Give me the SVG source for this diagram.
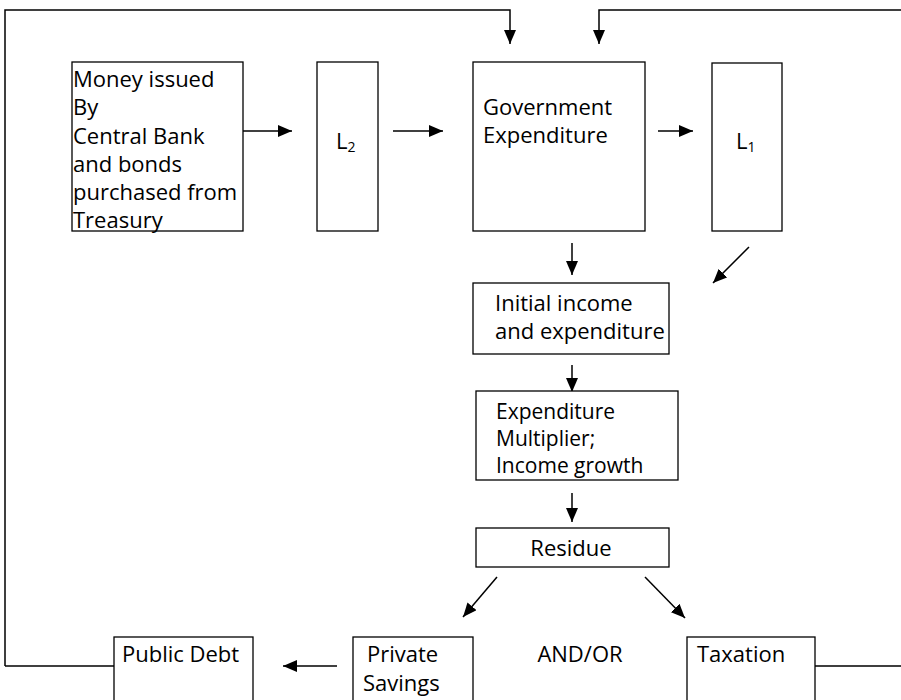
<svg xmlns="http://www.w3.org/2000/svg" width="901" height="700" viewBox="0 0 901 700">
<defs>
<marker id="ah" viewBox="0 0 14 12" refX="14" refY="6" markerWidth="14" markerHeight="12" markerUnits="userSpaceOnUse" orient="auto">
<path d="M0,0 L14,6 L0,12 Z" fill="#000"/>
</marker>
<style>
.box{fill:#fff;stroke:#000;stroke-width:1.3}
.t{font-family:"Open Sans","Liberation Sans",sans-serif;font-size:22px;fill:#000}
.s{font-size:21px}
.c{fill:none;stroke:#000;stroke-width:1.5}
.a{fill:none;stroke:#000;stroke-width:1.5;marker-end:url(#ah)}
</style>
</defs>
<rect width="901" height="700" fill="#fff"/>
<g id="connectors">
<path class="a" d="M5,666 L5,10 L510,10 L510,44"/>
<path class="c" d="M5,666 L114,666"/>
<path class="a" d="M815,666 L905,666 L905,10 L599,10 L599,44"/>
<path class="a" d="M243,131 L292,131"/>
<path class="a" d="M393,131 L443,131"/>
<path class="a" d="M658,131 L693,131"/>
<path class="a" d="M572,243 L572,275"/>
<path class="a" d="M749,247 L713,283"/>
<path class="a" d="M572,365 L572,392"/>
<path class="a" d="M572,493 L572,522"/>
<path class="a" d="M497,577 L463,617"/>
<path class="a" d="M645,577 L685,618"/>
<path class="a" d="M337,666 L283,666"/>
</g>
<g id="money">
<rect class="box" x="72" y="62" width="171" height="169"/>
<text class="t" x="73" y="87">Money issued</text>
<text class="t" x="73" y="115">By</text>
<text class="t" x="73" y="143.5">Central Bank</text>
<text class="t" x="73" y="172">and bonds</text>
<text class="t" x="73" y="200">purchased from</text>
<text class="t" x="73" y="228">Treasury</text>
</g>
<g id="L2">
<rect class="box" x="317" y="62" width="61" height="169"/>
<text class="t" x="336" y="149" font-size="20">L<tspan font-size="14" dy="3">2</tspan></text>
</g>
<g id="gov">
<rect class="box" x="473" y="62" width="172" height="169"/>
<text class="t" x="483" y="115">Government</text>
<text class="t" x="483" y="143">Expenditure</text>
</g>
<g id="L1">
<rect class="box" x="712" y="63" width="70" height="168"/>
<text class="t" x="736" y="149" font-size="20">L<tspan font-size="14" dy="3">1</tspan></text>
</g>
<g id="initial">
<rect class="box" x="473" y="283" width="196" height="71"/>
<text class="t" x="495" y="311">Initial income</text>
<text class="t" x="495" y="339">and expenditure</text>
</g>
<g id="multiplier">
<rect class="box" x="476" y="391" width="202" height="89"/>
<text class="t s" x="496" y="419">Expenditure</text>
<text class="t s" x="496" y="446">Multiplier;</text>
<text class="t s" x="496" y="473">Income growth</text>
</g>
<g id="residue">
<rect class="box" x="476" y="528" width="193" height="39"/>
<text class="t" x="571" y="556" text-anchor="middle">Residue</text>
</g>
<g id="publicdebt">
<rect class="box" x="114" y="637" width="139" height="80"/>
<text class="t" x="122" y="662">Public Debt</text>
</g>
<g id="savings">
<rect class="box" x="353" y="637" width="120" height="80"/>
<text class="t" x="367" y="662">Private</text>
<text class="t" x="363" y="691">Savings</text>
</g>
<g id="andor">
<text class="t" x="580" y="662" text-anchor="middle">AND/OR</text>
</g>
<g id="taxation">
<rect class="box" x="687" y="637" width="128" height="80"/>
<text class="t" x="697" y="662">Taxation</text>
</g>
</svg>
